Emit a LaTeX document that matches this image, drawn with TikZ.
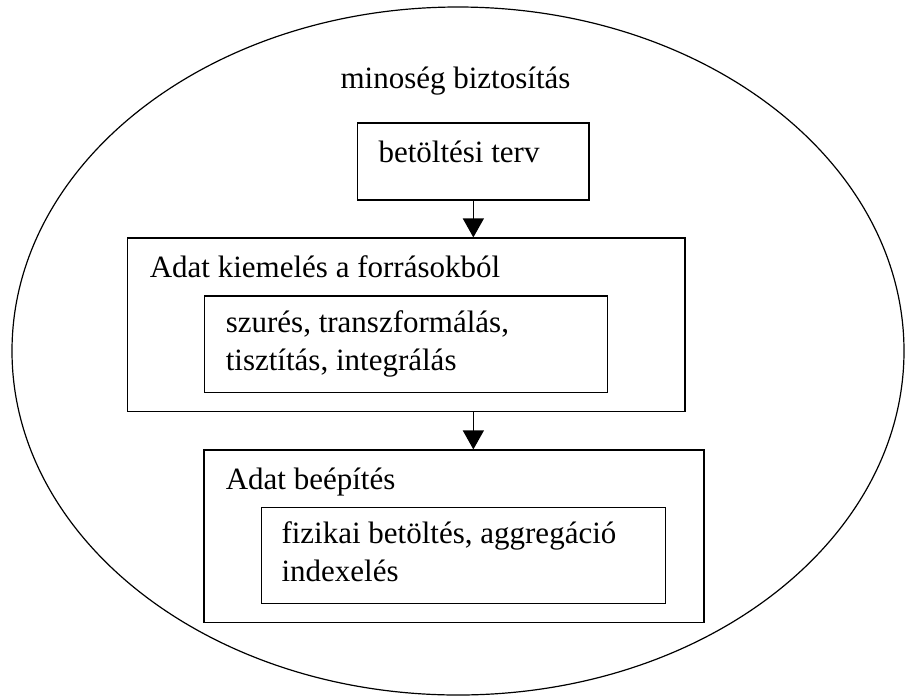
\documentclass[tikz,border=0pt]{standalone}
\usepackage{fontspec}
\setmainfont{Liberation Serif}
\usetikzlibrary{
  arrows.meta,
  positioning,
  shapes.geometric,
  calc,
  fit
}

\tikzset{
  box/.style={draw, line width=0.6pt, inner sep=0pt},
  boxtext/.style={anchor=base west, inner sep=0pt, font=\fontsize{15.5}{18.6}\selectfont},
  flow/.style={-{Triangle[length=9.5pt, width=10.5pt]}, line width=0.6pt}
}

\begin{document}
\begin{tikzpicture}[x=0.5pt, y=-0.5pt]
\useasboundingbox (0,0) rectangle (905,697);
% quality assurance around everything
\node[draw, ellipse, line width=0.6pt, inner sep=0pt,
      minimum width=446pt, minimum height=344pt] (qa) at (458,351) {};
\node[boxtext, anchor=base] (qatitle) at (455.5,88) {minoség biztosítás};

% loading plan
\node[box, fit={(357.7,123) (589,200)}] (plan) {};
\node[boxtext] (plantext) at ($(plan.north west)+(21,40)$) {betöltési terv};

% extraction
\node[box, fit={(127.3,238) (685,411.5)}] (extract) {};
\node[boxtext] (extracttext) at ($(extract.north west)+(22.7,40)$) {Adat kiemelés a forrásokból};
\node[box, fit={(204.3,296) (607.7,392.3)}] (clean) {};
\node[boxtext] (cleanone) at ($(clean.north west)+(21.7,37)$) {szurés, transzformálás,};
\node[boxtext] (cleantwo) at ($(clean.north west)+(21.7,74.7)$) {tisztítás, integrálás};

% loading
\node[box, fit={(204,450) (704,622.3)}] (load) {};
\node[boxtext] (loadtext) at ($(load.north west)+(22,40)$) {Adat beépítés};
\node[box, fit={(261.7,507.5) (665.7,603.5)}] (phys) {};
\node[boxtext] (physone) at ($(phys.north west)+(20,37)$) {fizikai betöltés, aggregáció};
\node[boxtext] (phystwo) at ($(phys.north west)+(20,74.7)$) {indexelés};

% arrows
\draw[flow] (plan.south) -- (plan.south |- extract.north);
\draw[flow] (plan.south |- extract.south) -- (plan.south |- load.north);
\end{tikzpicture}
\end{document}
